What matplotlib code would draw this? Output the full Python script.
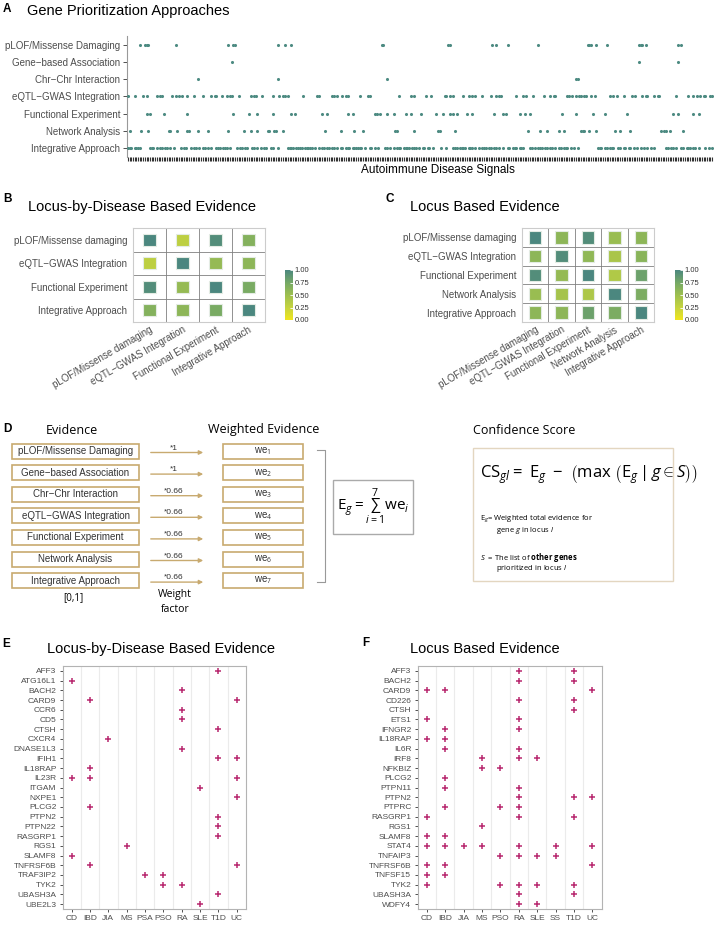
import numpy as np
import matplotlib
matplotlib.use("Agg")
import matplotlib.pyplot as plt
from matplotlib.colors import LinearSegmentedColormap, Normalize
from matplotlib.cm import ScalarMappable
from matplotlib.patches import Rectangle

plt.rcParams['font.family'] = ['Liberation Sans', 'DejaVu Sans']
plt.rcParams['mathtext.fontset'] = 'custom'
plt.rcParams['mathtext.rm'] = 'Open Sans'
plt.rcParams['mathtext.it'] = 'Open Sans:italic'
plt.rcParams['mathtext.bf'] = 'Open Sans:bold'

# ---------------- data ----------------
approaches = ["pLOF/Missense Damaging", "Gene\u2212based Association", "Chr\u2212Chr Interaction",
              "eQTL\u2212GWAS Integration", "Functional Experiment", "Network Analysis",
              "Integrative Approach"]
n_signals = 344
plof_sig = [7, 10, 11, 12, 28, 59, 62, 63, 88, 92, 96, 149, 150, 188, 189, 214, 216, 223, 241,
            270, 271, 272, 275, 281, 300, 301, 302, 304, 323, 325]
gene_sig = [61, 300, 323]
chr_sig = [41, 88, 152, 263, 264]
eqtl_sig = [0, 4, 9, 11, 17, 19, 20, 26, 28, 30, 32, 35, 39, 44, 49, 51, 52, 55, 58, 60, 61, 65,
            72, 74, 75, 79, 85, 89, 91, 92, 94, 103, 111, 112, 120, 121, 123, 126, 128, 129, 136,
            141, 142, 159, 166, 168, 175, 178, 186, 187, 189, 191, 197, 200, 202, 204, 208, 213,
            216, 218, 219, 228, 232, 234, 238, 244, 248, 250, 251, 258, 259, 261, 263, 265, 266,
            268, 269, 272, 274, 283, 285, 287, 291, 296, 298, 302, 304, 305, 309, 311, 312, 322,
            329, 332, 334, 336, 338, 339, 342, 343]
func_sig = [11, 13, 21, 35, 62, 71, 76, 85, 96, 98, 114, 117, 129, 132, 145, 146, 148, 152, 156,
            163, 166, 172, 181, 185, 189, 191, 193, 199, 202, 215, 220, 222, 230, 233, 236, 255,
            263, 273, 280, 293, 320, 323, 332, 335]
net_sig = [1, 8, 12, 24, 25, 29, 35, 36, 41, 47, 59, 68, 72, 76, 82, 83, 86, 87, 91, 116, 125,
           133, 138, 157, 158, 168, 182, 183, 192, 235, 242, 246, 253, 256, 266, 267, 268, 271,
           275, 286, 289, 295, 313, 315, 316, 318, 326]
integ_sig = [0, 1, 2, 4, 5, 6, 7, 13, 14, 15, 17, 19, 20, 22, 23, 25, 27, 31, 33, 34, 37, 39, 40,
             42, 44, 45, 47, 49, 52, 53, 54, 56, 57, 58, 60, 64, 66, 67, 69, 70, 73, 74, 76, 78,
             80, 81, 84, 85, 88, 94, 95, 96, 97, 99, 100, 101, 102, 104, 105, 106, 107, 108, 110,
             112, 114, 115, 117, 118, 120, 121, 123, 125, 126, 128, 129, 130, 132, 133, 134, 135,
             136, 137, 139, 142, 143, 145, 147, 151, 152, 154, 156, 158, 159, 160, 162, 163, 164,
             165, 167, 168, 169, 171, 173, 174, 176, 177, 179, 184, 187, 191, 192, 193, 195, 196,
             197, 198, 200, 201, 202, 204, 206, 208, 209, 210, 212, 213, 215, 216, 218, 220, 223,
             224, 226, 227, 228, 230, 231, 232, 236, 237, 239, 241, 242, 243, 245, 246, 248, 249,
             251, 253, 254, 256, 257, 258, 260, 262, 264, 276, 277, 278, 280, 281, 283, 284, 285,
             288, 289, 291, 292, 294, 295, 297, 299, 301, 303, 305, 307, 309, 316, 317, 319, 320,
             322, 325, 326, 328, 329, 330, 332, 333, 335, 339, 341, 343]
signals = [plof_sig, gene_sig, chr_sig, eqtl_sig, func_sig, net_sig, integ_sig]

b_labels = ["pLOF/Missense damaging", "eQTL\u2212GWAS Integration", "Functional Experiment",
            "Integrative Approach"]
b_vals = [[1.00, 0.30, 0.95, 0.65],
          [0.30, 1.00, 0.55, 0.60],
          [0.95, 0.55, 1.00, 0.72],
          [0.65, 0.60, 0.72, 1.00]]
c_labels = ["pLOF/Missense damaging", "eQTL\u2212GWAS Integration", "Functional Experiment",
            "Network Analysis", "Integrative Approach"]
c_vals = [[1.00, 0.60, 0.95, 0.52, 0.60],
          [0.60, 0.95, 0.58, 0.42, 0.62],
          [0.95, 0.55, 1.00, 0.38, 0.80],
          [0.52, 0.45, 0.40, 1.00, 0.70],
          [0.60, 0.60, 0.80, 0.70, 1.00]]

weights = ["*1", "*1", "*0.66", "*0.66", "*0.66", "*0.66", "*0.66"]

e_diseases = ["CD", "IBD", "JIA", "MS", "PSA", "PSO", "RA", "SLE", "T1D", "UC"]
e_genes = ["AFF3", "ATG16L1", "BACH2", "CARD9", "CCR6", "CD5", "CTSH", "CXCR4", "DNASE1L3",
           "IFIH1", "IL18RAP", "IL23R", "ITGAM", "NXPE1", "PLCG2", "PTPN2", "PTPN22", "RASGRP1",
           "RGS1", "SLAMF8", "TNFRSF6B", "TRAF3IP2", "TYK2", "UBASH3A", "UBE2L3"]
e_hits = [["T1D"], ["CD"], ["RA"], ["IBD", "UC"], ["RA"], ["RA"], ["T1D"], ["JIA"], ["RA"],
          ["T1D", "UC"], ["IBD"], ["CD", "IBD", "UC"], ["SLE"], ["UC"], ["IBD"], ["T1D"],
          ["T1D"], ["T1D"], ["MS"], ["CD"], ["IBD", "UC"], ["PSA", "PSO"], ["PSO", "RA"],
          ["T1D"], ["SLE"]]

f_diseases = ["CD", "IBD", "JIA", "MS", "PSO", "RA", "SLE", "SS", "T1D", "UC"]
f_genes = ["AFF3", "BACH2", "CARD9", "CD226", "CTSH", "ETS1", "IFNGR2", "IL18RAP", "IL6R", "IRF8",
           "NFKBIZ", "PLCG2", "PTPN11", "PTPN2", "PTPRC", "RASGRP1", "RGS1", "SLAMF8", "STAT4",
           "TNFAIP3", "TNFRSF6B", "TNFSF15", "TYK2", "UBASH3A", "WDFY4"]
f_hits = [["RA", "T1D"], ["RA", "T1D"], ["CD", "IBD", "UC"], ["RA", "T1D"], ["T1D"], ["CD", "RA"],
          ["IBD", "RA"], ["CD", "IBD"], ["IBD", "RA"], ["MS", "RA", "SLE"], ["MS", "PSO"],
          ["IBD"], ["IBD", "RA"], ["RA", "T1D", "UC"], ["IBD", "PSO", "RA"], ["CD", "RA", "T1D"],
          ["MS"], ["CD", "IBD"], ["CD", "IBD", "JIA", "MS", "RA", "SS", "UC"],
          ["PSO", "RA", "SLE", "SS"], ["CD", "IBD", "UC"], ["CD", "IBD"],
          ["CD", "PSO", "RA", "SLE", "T1D"], ["RA", "T1D"], ["RA", "SLE"]]

# ---------------- style ----------------
W, H = 720, 925
teal = '#4d8b82'
magenta = '#b8286f'
tan = '#c8aa70'
grey_txt = '#4d4d4d'
cmap = LinearSegmentedColormap.from_list('ev', ['#f0e51e', '#c5d33f', '#9dbf4f', '#74a866', '#4b877f'])

fig = plt.figure(figsize=(7.2, 9.25), dpi=100)


def px_axes(x, y, w, h):
    return fig.add_axes([x / W, 1 - (y + h) / H, w / W, h / H])


ov = fig.add_axes([0, 0, 1, 1])
ov.set_xlim(0, W)
ov.set_ylim(H, 0)
ov.axis('off')

# ---------------- A ----------------
ax = px_axes(127, 36.5, 586, 120)
for i, sig in enumerate(signals):
    ax.scatter(sig, [i] * len(sig), s=5, color=teal, linewidths=0, zorder=3)
ax.set_xlim(-0.5, n_signals - 0.5)
ax.set_ylim(len(approaches) - 0.5, -0.5)
ax.set_yticks(range(len(approaches)))
ax.set_yticklabels(approaches, fontsize=7, color=grey_txt)
ax.set_xticks(range(n_signals))
ax.set_xticklabels([])
ax.tick_params(axis='x', length=3, width=0.8, color='#333333')
ax.tick_params(axis='y', length=3, width=0.6, color='#333333', pad=2)
for s in ['top', 'right', 'bottom']:
    ax.spines[s].set_visible(False)
ax.spines['left'].set_color('#999999')
ax.set_xlabel("Autoimmune Disease Signals", fontsize=8.5)
ax.xaxis.set_label_coords(0.53, -0.06)
ov.text(3, 9, "A", fontsize=8.5, fontweight='bold', va='center')
ov.text(27, 11, "Gene Prioritization Approaches", fontsize=10.5, va='center')


# ---------------- B, C ----------------
def heat(ax, labels, vals):
    n = len(labels)
    xs, ys = np.meshgrid(range(n), range(n))
    ax.scatter(xs.ravel(), ys.ravel(), c=np.array(vals).ravel(), cmap=cmap, vmin=0, vmax=1,
               marker='s', s=78, edgecolors='#e4ece4', linewidths=0.8, zorder=3)
    ax.set_xlim(-0.5, n - 0.5)
    ax.set_ylim(n - 0.5, -0.5)
    ax.set_xticks(range(n))
    ax.set_xticklabels(labels, rotation=30, ha='right', va='top', rotation_mode='anchor',
                       fontsize=7, color=grey_txt)
    ax.set_yticks(range(n))
    ax.set_yticklabels(labels, fontsize=7, color=grey_txt)
    ax.set_xticks(np.arange(0.5, n - 1), minor=True)
    ax.set_yticks(np.arange(0.5, n - 1), minor=True)
    ax.grid(which='minor', color='#808080', lw=0.6)
    ax.tick_params(which='both', length=0)
    ax.tick_params(axis='x', pad=2)
    ax.tick_params(axis='y', pad=4)
    for lab in ax.get_xticklabels():
        lab.set_x(lab.get_position()[0])
    for s in ax.spines.values():
        s.set_color('#cccccc')


def cbar(cax):
    cb = fig.colorbar(ScalarMappable(norm=Normalize(0, 1), cmap=cmap), cax=cax)
    cb.set_ticks([0, 0.25, 0.5, 0.75, 1])
    cb.ax.set_yticklabels(['0.00', '0.25', '0.50', '0.75', '1.00'], fontsize=5.5, color='#333333')
    cb.outline.set_visible(False)
    cax.tick_params(length=2, color='white', width=0.6, direction='in', pad=1)


ax_b = px_axes(133, 228, 132, 94)
heat(ax_b, b_labels, b_vals)
cbar(px_axes(285, 270, 8, 50))
ov.text(3, 199, "B", fontsize=8.5, fontweight='bold', va='center')
ov.text(28, 207, "Locus-by-Disease Based Evidence", fontsize=10.5, va='center')

ax_c = px_axes(522, 228, 132, 94)
heat(ax_c, c_labels, c_vals)
cbar(px_axes(675, 270, 8, 50))
ov.text(386, 199, "C", fontsize=8.5, fontweight='bold', va='center')
ov.text(410, 207, "Locus Based Evidence", fontsize=10.5, va='center')

# ---------------- D ----------------
ov.text(3, 429, "D", fontsize=8.5, fontweight='bold', va='center')
ov.text(72, 430, "Evidence", fontsize=9, family='Open Sans', ha='center', va='center')
ov.text(264, 430, "Weighted Evidence", fontsize=9, family='Open Sans', ha='center', va='center')
for i, (lab, wt) in enumerate(zip(approaches, weights)):
    yc = 451 + i * 21.6
    ov.add_patch(Rectangle((12, yc - 7.5), 127, 15, fill=False, ec=tan, lw=1.2))
    ov.text(75.5, yc, lab, fontsize=7, color='#333333', ha='center', va='center')
    ov.annotate('', xy=(206, yc + 1.5), xytext=(148, yc + 1.5),
                arrowprops=dict(arrowstyle='-|>', color=tan, lw=1, mutation_scale=6))
    ov.text(174, yc - 3, wt, fontsize=6, color='#333333', ha='center', va='center')
    ov.add_patch(Rectangle((223, yc - 7.5), 80, 15, fill=False, ec=tan, lw=1.2))
    ov.text(263, yc, r'we$_{%d}$' % (i + 1), fontsize=7, color='#333333', ha='center', va='center')
ov.plot([317, 325, 325, 317], [449.5, 449.5, 582, 582], color='#999999', lw=0.8)
ov.add_patch(Rectangle((333, 480), 80, 54, fill=False, ec='#aaaaaa', lw=1))
ov.text(373, 507, r'$\mathrm{E}_{g}= \sum_{i=1}^{7}\mathrm{we}_{i}$', fontsize=11,
        ha='center', va='center')
ov.text(73, 598, "[0,1]", fontsize=7, family='Open Sans', ha='center', va='center')
ov.text(175, 595, "Weight", fontsize=7.5, family='Open Sans', ha='center', va='center')
ov.text(175, 609, "factor", fontsize=7.5, family='Open Sans', ha='center', va='center')

ov.text(473, 430, "Confidence Score", fontsize=9, family='Open Sans', va='center')
ov.add_patch(Rectangle((473, 448), 200, 133, fill=False, ec='#e3d6c0', lw=1))
ov.text(480, 475, r'$\mathrm{CS}_{gl} =\ \mathrm{E}_{g}\ -\ \left(\mathrm{max}\ \left(\mathrm{E}_{g}\,|\,g \in S\right)\right)$',
        fontsize=12, va='center')
ov.text(480, 519, r'E$_g$= Weighted total evidence for', fontsize=5.5, family='Open Sans', va='center')
ov.text(496, 530, r'gene $g$ in locus $l$', fontsize=5.5, family='Open Sans', va='center')
ov.text(480, 557, r'$S$  = The list of $\mathbf{other\ genes}$', fontsize=5.5, family='Open Sans',
        va='center')
ov.text(496, 568, r'prioritized in locus $l$', fontsize=5.5, family='Open Sans', va='center')


# ---------------- E, F ----------------
def plus_plot(ax, genes, diseases, hits):
    xs, ys = [], []
    for i, row in enumerate(hits):
        for d in row:
            xs.append(diseases.index(d))
            ys.append(i)
    ax.scatter(xs, ys, marker='+', s=24, c=magenta, linewidths=1.1, zorder=3)
    ax.set_xlim(-0.5, len(diseases) - 0.5)
    ax.set_ylim(len(genes) - 0.5, -0.5)
    ax.set_xticks(range(len(diseases)))
    ax.set_xticklabels(diseases)
    ax.set_yticks(range(len(genes)))
    ax.set_yticklabels(genes)
    ax.set_xticks(np.arange(0.5, len(diseases) - 1), minor=True)
    ax.grid(which='minor', axis='x', color='#ebebeb', lw=0.8)
    ax.set_axisbelow(True)
    ax.tick_params(which='major', length=2.5, width=0.6, color='#333333', labelsize=6,
                   labelcolor=grey_txt, pad=2)
    ax.tick_params(which='minor', length=0)
    for s in ax.spines.values():
        s.set_color('#b3b3b3')


ax_e = px_axes(62.5, 666, 183.5, 243)
plus_plot(ax_e, e_genes, e_diseases, e_hits)
ov.text(2, 644, "E", fontsize=8.5, fontweight='bold', va='center')
ov.text(47, 649, "Locus-by-Disease Based Evidence", fontsize=10.5, va='center')

ax_f = px_axes(417.5, 666, 184, 243)
plus_plot(ax_f, f_genes, f_diseases, f_hits)
ov.text(362, 643, "F", fontsize=8.5, fontweight='bold', va='center')
ov.text(410, 649, "Locus Based Evidence", fontsize=10.5, va='center')

fig.savefig('out.png', dpi=100)
